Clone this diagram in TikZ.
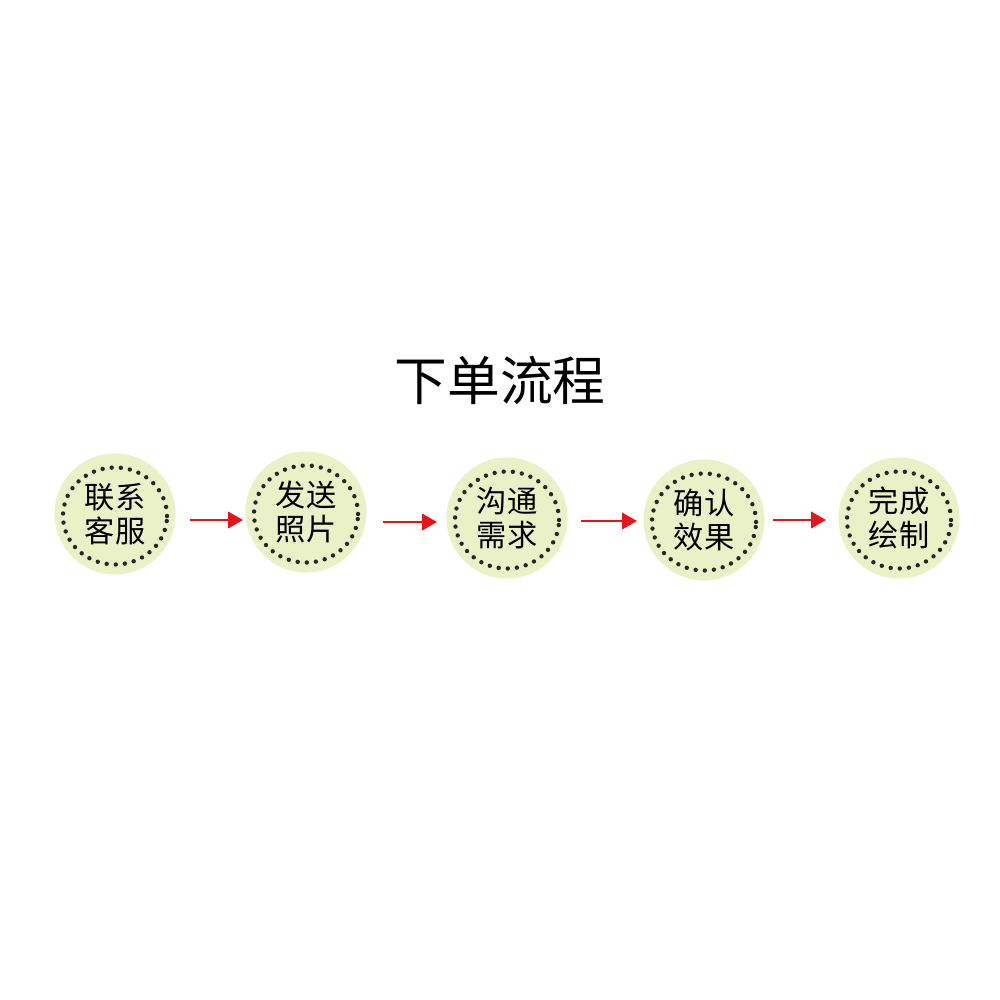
\documentclass[tikz,border=0pt]{standalone}
\usepackage{fontspec}
\newfontfamily\cjk{Noto Sans CJK SC}
\usetikzlibrary{arrows.meta}
\definecolor{disc}{HTML}{EAF1C6}
\definecolor{arrowred}{HTML}{E8141C}
\tikzset{
  stepdisc/.style={circle, fill=disc, minimum size=1.21cm, inner sep=0pt, font=\cjk\fontsize{8.6}{9.6}\selectfont, align=center, text=black},
  ring/.style={draw=black!85, line width=1.25pt, line cap=round, dash pattern=on 0pt off 2.6pt},
  flowarrow/.style={draw=arrowred, line width=0.8pt, -{Triangle[length=4.2pt,width=4.6pt]}}
}
\begin{document}
\begin{tikzpicture}[x=0.01cm,y=-0.01cm]
\useasboundingbox (0,0) rectangle (1000,1000);
\node[font=\cjk\fontsize{15}{18}\selectfont] (title) at (500,380) {下单流程};
\node[stepdisc] (c1) at (115,514) {联系\\客服};
\node[stepdisc] (c2) at (306,512) {发送\\照片};
\node[stepdisc] (c3) at (507,518) {沟通\\需求};
\node[stepdisc] (c4) at (704,520) {确认\\效果};
\node[stepdisc] (c5) at (899,518) {完成\\绘制};
\foreach \n in {c1,c2,c3,c4,c5}{
  \draw[ring] ([yshift=-0.02cm]\n.center) ellipse [x radius=0.52cm, y radius=0.485cm];
}
\coordinate (a1s) at (190,520); \coordinate (a1e) at (243,520);
\coordinate (a2s) at (383,522); \coordinate (a2e) at (437,522);
\coordinate (a3s) at (581,521); \coordinate (a3e) at (637,521);
\coordinate (a4s) at (773,520); \coordinate (a4e) at (826,520);
\draw[flowarrow] (a1s) -- (a1e);
\draw[flowarrow] (a2s) -- (a2e);
\draw[flowarrow] (a3s) -- (a3e);
\draw[flowarrow] (a4s) -- (a4e);
\end{tikzpicture}
\end{document}
